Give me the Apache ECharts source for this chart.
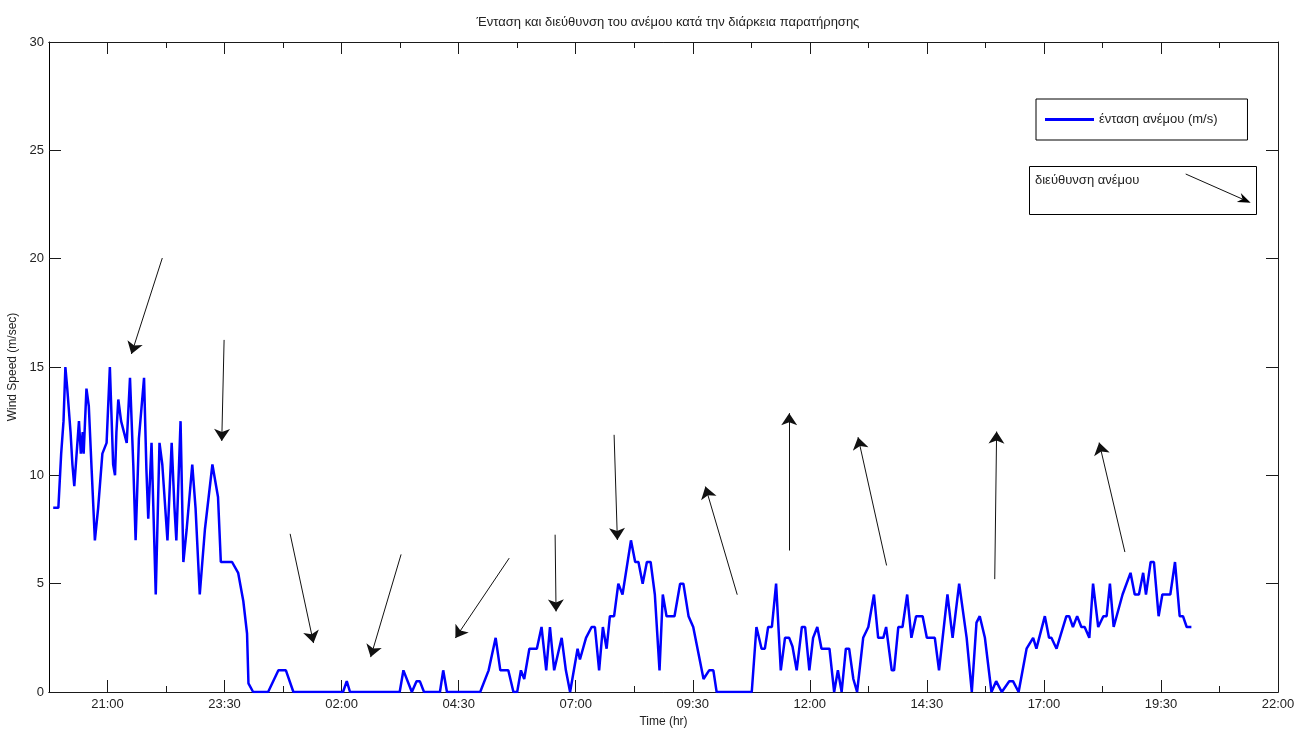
<!DOCTYPE html>
<html>
<head>
<meta charset="utf-8">
<title>Wind</title>
<script src="https://cdn.jsdelivr.net/npm/echarts@6/dist/echarts.min.js"></script>
<style>
	html, body { margin: 0; padding: 0; background: #fff; }
	#mydiv { width: 1294px; height: 729px; }
</style>
</head>
<body>
<div id="mydiv"></div>
<script>
// time in hours from midnight of the first day (26 = 02:00 next day)
var hours = [
	19.84, 19.95, 20.01, 20.06, 20.10, 20.14, 20.21, 20.25, 20.29, 20.34,
	20.39, 20.43, 20.47, 20.49, 20.55, 20.60, 20.66, 20.73, 20.80, 20.89,
	20.98, 21.05, 21.12, 21.16, 21.19, 21.23, 21.29, 21.41, 21.48, 21.55,
	21.60, 21.67, 21.78, 21.83, 21.87, 21.94, 22.03, 22.11, 22.17, 22.28,
	22.37, 22.43, 22.47, 22.56, 22.62, 22.69, 22.81, 22.88, 22.97, 23.08,
	23.24, 23.36, 23.42, 23.66, 23.79, 23.90, 23.98, 24.01, 24.11, 24.43,
	24.65, 24.81, 24.97, 26.03, 26.11, 26.18, 27.24, 27.32, 27.50, 27.60,
	27.67, 27.76, 28.10, 28.17, 28.25, 28.96, 29.14, 29.29, 29.39, 29.56,
	29.67, 29.75, 29.83, 29.90, 30.01, 30.17, 30.27, 30.37, 30.45, 30.54,
	30.70, 30.79, 30.88, 31.04, 31.09, 31.22, 31.34, 31.41, 31.50, 31.58,
	31.66, 31.73, 31.82, 31.91, 32.00, 32.18, 32.27, 32.34, 32.43, 32.52,
	32.60, 32.69, 32.79, 32.86, 32.94, 33.11, 33.23, 33.30, 33.41, 33.51,
	33.73, 33.85, 33.94, 34.01, 34.76, 34.86, 34.97, 35.04, 35.11, 35.19,
	35.28, 35.38, 35.47, 35.56, 35.63, 35.72, 35.83, 35.90, 35.99, 36.07,
	36.16, 36.25, 36.42, 36.52, 36.60, 36.68, 36.77, 36.84, 36.93, 37.01,
	37.14, 37.25, 37.37, 37.46, 37.57, 37.63, 37.75, 37.80, 37.89, 37.98,
	38.08, 38.17, 38.27, 38.41, 38.50, 38.67, 38.76, 38.94, 39.05, 39.19,
	39.35, 39.46, 39.56, 39.63, 39.74, 39.88, 39.98, 40.10, 40.26, 40.34,
	40.46, 40.63, 40.77, 40.84, 41.02, 41.11, 41.16, 41.27, 41.48, 41.54,
	41.62, 41.71, 41.80, 41.87, 41.97, 42.05, 42.16, 42.27, 42.34, 42.41,
	42.49, 42.68, 42.85, 42.94, 43.03, 43.12, 43.18, 43.28, 43.35, 43.45,
	43.53, 43.70, 43.80, 43.90, 43.97, 44.05, 44.15
];
var windSpeed = [
	8.5, 8.5, 11, 12.5, 15, 14, 12, 10.5, 9.5, 11,
	12.5, 11, 12, 11, 14, 13.2, 10.3, 7, 8.5, 11,
	11.5, 15, 10.5, 10, 12, 13.5, 12.5, 11.5, 14.5, 10.5,
	7, 11.7, 14.5, 10.3, 8, 11.5, 4.5, 11.5, 10.5, 7,
	11.5, 8.5, 7, 12.5, 6, 7.5, 10.5, 8.5, 4.5, 7.5,
	10.5, 9, 6, 6, 5.5, 4.2, 2.7, 0.4, 0, 0,
	1, 1, 0, 0, 0.5, 0, 0, 1, 0, 0.5,
	0.5, 0, 0, 1, 0, 0, 1, 2.5, 1, 1,
	0, 0, 1, 0.6, 2, 2, 3, 1, 3, 1,
	2.5, 1, 0, 2, 1.5, 2.5, 3, 3, 1, 3,
	2, 3.5, 3.5, 5, 4.5, 7, 6, 6, 5, 6,
	6, 4.5, 1, 4.5, 3.5, 3.5, 5, 5, 3.5, 3,
	0.6, 1, 1, 0, 0, 3, 2, 2, 3, 3,
	5, 1, 2.5, 2.5, 2.1, 1, 3, 3, 1, 2.5,
	3, 2, 2, 0, 1, 0, 2, 2, 0.6, 0,
	2.5, 3, 4.5, 2.5, 2.5, 3, 1, 1, 3, 3,
	4.5, 2.5, 3.5, 3.5, 2.5, 2.5, 1, 4.5, 2.5, 5,
	2.5, 0, 3.2, 3.5, 2.5, 0, 0.5, 0, 0.5, 0.5,
	0, 2, 2.5, 2, 3.5, 2.5, 2.5, 2, 3.5, 3.5,
	3, 3.5, 3, 3, 2.5, 5, 3, 3.5, 3.5, 5,
	3, 4.5, 5.5, 4.5, 4.5, 5.5, 4.5, 6, 6, 3.5,
	4.5, 4.5, 6, 3.5, 3.5, 3, 3
];
// wind direction arrows: tail -> head, in [hour, m/s]
var arrowTail = [
	[22.17, 20.03], [23.49, 16.25], [24.90, 7.30], [27.27, 6.35], [29.58, 6.18], [30.56, 7.26],
	[31.82, 11.87], [34.45, 4.49], [35.56, 6.53], [37.64, 5.84], [39.95, 5.21], [42.73, 6.46]
];
var arrowHead = [
	[21.51, 15.60], [23.44, 11.59], [25.40, 2.26], [26.62, 1.61], [28.43, 2.49], [30.58, 3.72],
	[31.89, 7.02], [33.77, 9.48], [35.56, 12.87], [37.03, 11.76], [39.99, 12.02], [42.18, 11.51]
];
var majorTicks = [21, 23.5, 26, 28.5, 31, 33.5, 36, 38.5, 41, 43.5, 46];
var tickLabels = ['21:00', '23:30', '02:00', '04:30', '07:00', '09:30', '12:00', '14:30', '17:00', '19:30', '22:00'];
var minorTicks = [22.25, 24.75, 27.25, 29.75, 32.25, 34.75, 37.25, 39.75, 42.25, 44.75];

var speedName = 'ένταση ανέμου (m/s)';
var fontFam = 'Liberation Sans, Arial, sans-serif';

var lineData = [];
for(var i = 0; i < hours.length; i++) {
	lineData.push([hours[i], windSpeed[i]]);
}
var arrowData = [];
for(var j = 0; j < arrowTail.length; j++) {
	arrowData.push({ coords: [arrowTail[j], arrowHead[j]] });
}

function xAxisOpt(pos, ticks, len, withLabel) {
	return {
		type: 'value',
		position: pos,
		min: 19.75,
		max: 46,
		axisLine: { show: true, onZero: false, lineStyle: { color: '#1a1a1a', width: 1 } },
		axisTick: { show: true, inside: true, length: len, customValues: ticks, lineStyle: { color: '#1a1a1a' } },
		axisLabel: {
			show: withLabel,
			customValues: ticks,
			margin: 6,
			fontSize: 13,
			color: '#222',
			fontFamily: fontFam,
			formatter: function(v) {
				var k = majorTicks.indexOf(v);
				return k >= 0 ? tickLabels[k] : '';
			}
		},
		splitLine: { show: false }
	};
}

var myChart = echarts.init(document.getElementById('mydiv'));
var xMain = xAxisOpt('bottom', majorTicks, 12, true);
xMain.name = 'Time (hr)';
xMain.nameLocation = 'middle';
xMain.nameGap = 22;
xMain.nameTextStyle = { fontSize: 12, color: '#222', fontFamily: fontFam };

var option = {
	backgroundColor: '#fff',
	animation: false,
	title: {
		text: 'Ένταση και διεύθυνση του ανέμου κατά την διάρκεια παρατήρησης',
		left: 663,
		textAlign: 'center',
		top: 11,
		textStyle: { fontSize: 13, fontWeight: 'normal', color: '#222', fontFamily: fontFam }
	},
	grid: { left: 49, right: 16, top: 42, bottom: 37, containLabel: false, outerBoundsMode: 'none' },
	legend: {
		data: [speedName],
		left: 1036,
		top: 99,
		icon: 'rect',
		itemWidth: 49,
		itemHeight: 3,
		padding: [14, 30, 14, 9],
		borderColor: '#000',
		borderWidth: 1,
		textStyle: { fontSize: 13, color: '#222', fontFamily: fontFam }
	},
	xAxis: [
		xMain,
		xAxisOpt('bottom', minorTicks, 6, false),
		xAxisOpt('top', majorTicks, 12, false),
		xAxisOpt('top', minorTicks, 6, false)
	],
	yAxis: [{
		type: 'value',
		position: 'left',
		min: 0,
		max: 30,
		interval: 5,
		name: 'Wind Speed (m/sec)',
		nameLocation: 'middle',
		nameGap: 30,
		nameTextStyle: { fontSize: 12, color: '#222', fontFamily: fontFam },
		axisLine: { show: true, lineStyle: { color: '#000', width: 1 } },
		axisTick: { show: true, inside: true, length: 12, lineStyle: { color: '#1a1a1a' } },
		axisLabel: { margin: 5, fontSize: 13, color: '#222', fontFamily: fontFam },
		splitLine: { show: false }
	}, {
		type: 'value',
		position: 'right',
		min: 0,
		max: 30,
		interval: 5,
		axisLine: { show: true, lineStyle: { color: '#1a1a1a', width: 1 } },
		axisTick: { show: true, inside: true, length: 12, lineStyle: { color: '#1a1a1a' } },
		axisLabel: { show: false },
		splitLine: { show: false }
	}],
	series: [{
		name: speedName,
		type: 'line',
		xAxisIndex: 0,
		yAxisIndex: 0,
		showSymbol: false,
		symbol: 'none',
		color: '#0000ff',
		lineStyle: { color: '#0000ff', width: 2.5 },
		data: lineData
	}, {
		name: 'διεύθυνση ανέμου',
		type: 'lines',
		coordinateSystem: 'cartesian2d',
		xAxisIndex: 0,
		yAxisIndex: 0,
		symbol: ['none', 'arrow'],
		symbolSize: 12,
		lineStyle: { color: '#111', width: 1, opacity: 1 },
		itemStyle: { color: '#000' },
		data: arrowData
	}],
	// direction legend box (drawn by hand, matches the matlab annotation)
	graphic: [{
		type: 'rect',
		shape: { x: 1029.5, y: 166.5, width: 227, height: 48 },
		style: { fill: '#fff', stroke: '#000', lineWidth: 1 }
	}, {
		type: 'text',
		x: 1035,
		y: 174,
		style: { text: 'διεύθυνση ανέμου', fontSize: 13, fill: '#222', fontFamily: fontFam }
	}, {
		type: 'line',
		shape: { x1: 1185.7, y1: 174, x2: 1242.5, y2: 199.1 },
		style: { stroke: '#111', lineWidth: 1 }
	}, {
		type: 'polygon',
		shape: { points: [[1250.7, 202.7], [1236.8, 202.0], [1242.5, 199.1], [1240.8, 192.9]] },
		style: { fill: '#000' }
	}]
};
myChart.setOption(option);
</script>
</body>
</html>
